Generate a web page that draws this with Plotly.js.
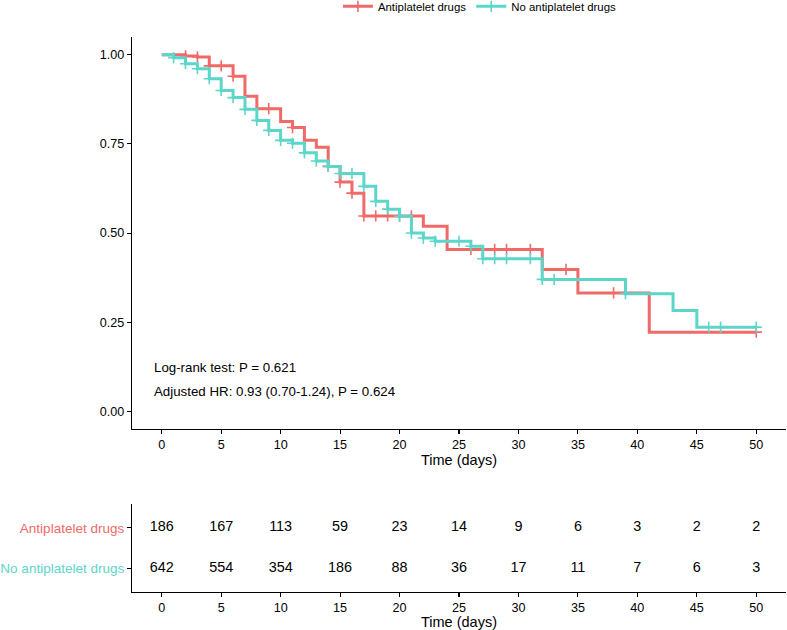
<!DOCTYPE html>
<html>
<head>
<meta charset="utf-8">
<script src="https://cdn.plot.ly/plotly-3.0.1.min.js"></script>
<style>html,body{margin:0;padding:0;background:#fff;}#chart{width:787px;height:630px;}</style>
</head>
<body>
<div id="chart"></div>
<script>
// ---- Data ----
const groupNames = ["Antiplatelet drugs", "No antiplatelet drugs"];
const groupColors = ["#F06A68", "#5CD6C8"];

// Kaplan-Meier step points: Antiplatelet drugs
const antiTimes = [0, 2, 3, 4, 6, 7, 8, 10, 11, 12, 13, 14, 15, 16, 17, 22, 24, 32, 35, 41, 50];
const antiSurv  = [1.000, 0.997, 0.994, 0.969, 0.940, 0.884, 0.849, 0.813, 0.796, 0.760, 0.741, 0.687, 0.643, 0.612, 0.548, 0.519, 0.454, 0.398, 0.332, 0.222, 0.222];
const antiCensor = [2, 3, 4, 5, 6, 9, 11, 14, 15, 16, 17, 18, 19, 20, 21, 26, 28, 29, 31, 34, 38, 50];

// Kaplan-Meier step points: No antiplatelet drugs
const noTimes = [0, 1, 2, 3, 4, 5, 6, 7, 8, 9, 10, 11, 12, 13, 14, 15, 17, 18, 19, 20, 21, 22, 23, 26, 27, 32, 39, 43, 45, 50];
const noSurv  = [1.000, 0.992, 0.975, 0.961, 0.933, 0.900, 0.880, 0.847, 0.816, 0.788, 0.760, 0.752, 0.725, 0.702, 0.687, 0.667, 0.631, 0.589, 0.567, 0.547, 0.500, 0.486, 0.477, 0.463, 0.428, 0.370, 0.330, 0.283, 0.236, 0.236];
const noCensor = [1, 2, 3, 4, 5, 6, 7, 8, 9, 10, 11, 12, 13, 14, 15, 16, 17, 18, 19, 20, 21, 22, 23, 25, 26, 27, 28, 29, 31, 32, 33, 39, 46, 47, 50];

// Number at risk table
const riskTimes = [0, 5, 10, 15, 20, 25, 30, 35, 40, 45, 50];
const antiRisk = [186, 167, 113, 59, 23, 14, 9, 6, 3, 2, 2];
const noRisk   = [642, 554, 354, 186, 88, 36, 17, 11, 7, 6, 3];

const yTickVals = [0, 0.25, 0.5, 0.75, 1];
const yTickText = ["0.00", "0.25", "0.50", "0.75", "1.00"];
const xTickVals = [0, 5, 10, 15, 20, 25, 30, 35, 40, 45, 50];
const xTitle = "Time (days)";
const pvalText = "Log-rank test: P = 0.621";
const hrText = "Adjusted HR: 0.93 (0.70-1.24), P = 0.624";

// ---- Helpers ----
function survAt(times, surv, t) {
  let v = surv[0];
  for (let i = 0; i < times.length; i++) { if (times[i] <= t) v = surv[i]; }
  return v;
}

const FONT = "Liberation Sans, Arial, Helvetica, sans-serif";

const traces = [];
const groups = [
  {times: antiTimes, surv: antiSurv, cens: antiCensor},
  {times: noTimes, surv: noSurv, cens: noCensor}
];
groups.forEach((g, i) => {
  traces.push({
    x: g.times, y: g.surv, type: "scatter", mode: "lines",
    line: {shape: "hv", color: groupColors[i], width: 3},
    xaxis: "x", yaxis: "y", showlegend: false, hoverinfo: "skip"
  });
  traces.push({
    x: g.cens, y: g.cens.map(t => survAt(g.times, g.surv, t)),
    type: "scatter", mode: "markers",
    marker: {symbol: "cross-thin-open", size: 8, color: groupColors[i], line: {color: groupColors[i], width: 1.6}},
    xaxis: "x", yaxis: "y", showlegend: false, hoverinfo: "skip"
  });
});
// legend entries
groups.forEach((g, i) => {
  traces.push({
    x: [null], y: [null], type: "scatter", mode: "lines+markers", name: groupNames[i],
    line: {color: groupColors[i], width: 3},
    marker: {symbol: "cross-thin-open", size: 8, color: groupColors[i], line: {color: groupColors[i], width: 1.6}},
    xaxis: "x", yaxis: "y", showlegend: true
  });
});
// risk table
traces.push({
  x: riskTimes, y: riskTimes.map(() => 2), text: antiRisk.map(String),
  type: "scatter", mode: "text", textposition: "middle center",
  textfont: {family: FONT, size: 14.4, color: "#000"},
  xaxis: "x2", yaxis: "y2", showlegend: false, hoverinfo: "skip"
});
traces.push({
  x: riskTimes, y: riskTimes.map(() => 1), text: noRisk.map(String),
  type: "scatter", mode: "text", textposition: "middle center",
  textfont: {family: FONT, size: 14.4, color: "#000"},
  xaxis: "x2", yaxis: "y2", showlegend: false, hoverinfo: "skip"
});

const axisCommon = {
  showline: true, linecolor: "#000", linewidth: 1.1,
  ticks: "outside", ticklen: 4, tickwidth: 1.1, tickcolor: "#000",
  showgrid: false, zeroline: false, fixedrange: true, automargin: false,
  tickfont: {family: FONT, size: 12.6, color: "#000"}
};

const layout = {
  width: 787, height: 630,
  margin: {l: 132, r: 1, t: 36.7, b: 38.3, autoexpand: false},
  paper_bgcolor: "#fff", plot_bgcolor: "#fff",
  font: {family: FONT, color: "#000"},
  showlegend: true,
  legend: {
    orientation: "h", x: 0.532, xanchor: "center", y: 1.0553, yanchor: "middle",
    font: {family: FONT, size: 11.4, color: "#000"}, bgcolor: "rgba(0,0,0,0)",
    itemwidth: 30, tracegroupgap: 0
  },
  xaxis: Object.assign({}, axisCommon, {
    domain: [0, 1], anchor: "y", range: [-2.5, 52.5],
    tickvals: xTickVals,
    title: {text: xTitle, font: {family: FONT, size: 14.5, color: "#000"}, standoff: 3}
  }),
  yaxis: Object.assign({}, axisCommon, {
    domain: [0.2935, 1], anchor: "x", range: [-0.05, 1.05],
    tickvals: yTickVals, ticktext: yTickText
  }),
  xaxis2: Object.assign({}, axisCommon, {
    domain: [0, 1], anchor: "y2", range: [-2.5, 52.5],
    tickvals: xTickVals,
    title: {text: xTitle, font: {family: FONT, size: 14.5, color: "#000"}, standoff: 3}
  }),
  yaxis2: Object.assign({}, axisCommon, {
    domain: [0, 0.1593], anchor: "x2", range: [0.41, 2.6],
    tickvals: [2, 1],
    ticktext: groupNames.map((n, i) => '<span style="color:' + groupColors[i] + '">' + n + '</span>'),
    tickfont: {family: FONT, size: 13.5, color: "#000"}
  }),
  annotations: [
    {x: -0.84, y: 0.123, xref: "x", yref: "y", text: pvalText, showarrow: false,
     xanchor: "left", yanchor: "middle", font: {family: FONT, size: 13.3, color: "#000"}},
    {x: -0.84, y: 0.056, xref: "x", yref: "y", text: hrText, showarrow: false,
     xanchor: "left", yanchor: "middle", font: {family: FONT, size: 13.3, color: "#000"}}
  ]
};

Plotly.newPlot("chart", traces, layout, {staticPlot: true, displayModeBar: false});
</script>
</body>
</html>
